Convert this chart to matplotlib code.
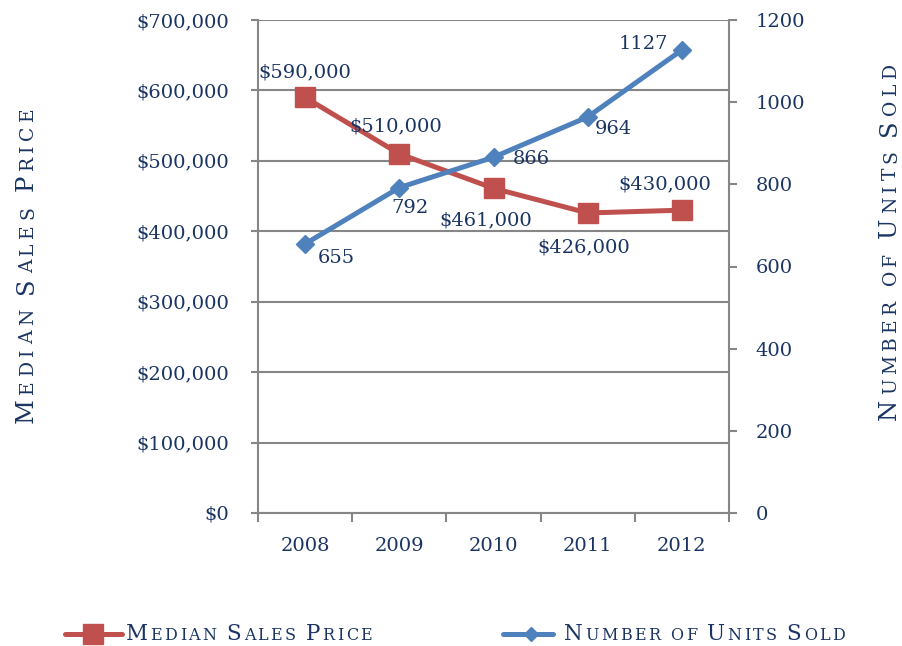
import matplotlib
matplotlib.use("Agg")
import matplotlib.pyplot as plt
from matplotlib.font_manager import FontProperties
from matplotlib.lines import Line2D
from matplotlib.ticker import FuncFormatter, FixedLocator
import numpy as np

# ---------------- data ----------------
years = ["2008", "2009", "2010", "2011", "2012"]
median_price = [590000, 510000, 461000, 426000, 430000]
units_sold = [655, 792, 866, 964, 1127]
price_labels = ["$590,000", "$510,000", "$461,000", "$426,000", "$430,000"]
units_labels = ["655", "792", "866", "964", "1127"]
left_ticks = [0, 100000, 200000, 300000, 400000, 500000, 600000, 700000]
right_ticks = [0, 200, 400, 600, 800, 1000, 1200]

# label offsets (pixels) for data labels
price_offsets = [(0, 25), (-4, 27), (-8, -32), (-4, -34), (-17, 26)]
units_offsets = [(31, -14), (11, -20), (38, -2), (26, -12), (-39, 6)]

# ---------------- style ----------------
W, H = 902, 646
FAMILY = "DejaVu Serif"
NAVY = "#1B3563"
RED = "#C0504D"
BLUE = "#4F81BD"
GRAY = "#868686"

plt.rcParams["font.family"] = FAMILY

fig = plt.figure(figsize=(W / 100, H / 100), dpi=100)
fig.patch.set_facecolor("white")
ax = fig.add_axes([258 / W, 1 - 513 / H, (729 - 258) / W, (513 - 20) / H])
ax2 = ax.twinx()

x = np.arange(len(years))

ax.plot(x, median_price, color=RED, lw=3.6, marker="s", ms=14,
        markerfacecolor=RED, markeredgecolor=RED, solid_capstyle="round",
        zorder=3)
ax2.plot(x, units_sold, color=BLUE, lw=3.6, marker="D", ms=9.5,
         markerfacecolor=BLUE, markeredgecolor=BLUE, solid_capstyle="round",
         zorder=3)

ax.set_xlim(-0.5, len(years) - 0.5)
ax.set_ylim(0, 700000)
ax2.set_ylim(0, 1200)

# x ticks: major at boundaries, labels at centres
ax.xaxis.set_major_locator(FixedLocator(np.arange(-0.5, len(years), 1.0)))
ax.xaxis.set_major_formatter(FuncFormatter(lambda v, p: ""))
ax.xaxis.set_minor_locator(FixedLocator(x))
ax.xaxis.set_minor_formatter(FuncFormatter(lambda v, p: years[int(round(v))]))
ax.tick_params(axis="x", which="major", length=6.5, width=1.5, color=GRAY,
               direction="out")
ax.tick_params(axis="x", which="minor", length=0, pad=17, labelsize=14,
               labelcolor=NAVY)

ax.set_yticks(left_ticks)
ax.yaxis.set_major_formatter(FuncFormatter(lambda v, p: "${:,.0f}".format(v)))
ax.tick_params(axis="y", length=5, width=1.5, color=GRAY, pad=16,
               labelsize=14, labelcolor=NAVY)

ax2.set_yticks(right_ticks)
ax2.tick_params(axis="y", length=6, width=1.5, color=GRAY, pad=13,
                labelsize=14, labelcolor=NAVY)

ax.yaxis.grid(True, color=GRAY, lw=1.5)
ax.set_axisbelow(True)

for a in (ax, ax2):
    a.spines["top"].set_visible(False)
    for s in ("left", "right", "bottom"):
        a.spines[s].set_color(GRAY)
        a.spines[s].set_linewidth(1.5)
ax.spines["right"].set_visible(False)
ax2.spines["left"].set_visible(False)
ax2.spines["bottom"].set_visible(False)

# data labels
for i, (v, lab) in enumerate(zip(median_price, price_labels)):
    ax2.annotate(lab, xy=(x[i], v), xycoords=ax.transData,
                 xytext=price_offsets[i], textcoords="offset pixels",
                 ha="center", va="center", fontsize=14, color=NAVY, zorder=5)
for i, (v, lab) in enumerate(zip(units_sold, units_labels)):
    ax2.annotate(lab, xy=(x[i], v), xycoords=ax2.transData,
                 xytext=units_offsets[i], textcoords="offset pixels",
                 ha="center", va="center", fontsize=14, color=NAVY, zorder=5)

# ---------------- small-caps helper ----------------
renderer = fig.canvas.get_renderer()
_cache = {}


def advance(ch, size):
    key = (ch, size)
    if key not in _cache:
        prop = FontProperties(family=FAMILY, size=size)
        w1, _, _ = renderer.get_text_width_height_descent("H" + ch + "H", prop, ismath=False)
        w0, _, _ = renderer.get_text_width_height_descent("HH", prop, ismath=False)
        _cache[key] = w1 - w0
    return _cache[key]


def small_caps(x0, y0_top, text, big, small, rotation, length):
    """x0, y0_top in pixels (origin top-left); baseline start point."""
    glyphs = []
    for ch in text:
        if ch == " ":
            glyphs.append((" ", small))
        elif ch.isupper():
            glyphs.append((ch, big))
        else:
            glyphs.append((ch.upper(), small))
    natural = sum(advance(c, s) for c, s in glyphs)
    track = (length - natural) / max(len(glyphs) - 1, 1)
    pos = 0.0
    y0 = H - y0_top
    for c, s in glyphs:
        if c != " ":
            if rotation == 0:
                px, py = x0 + pos, y0
            else:
                px, py = x0, y0 + pos
            fig.text(px / W, py / H, c, fontsize=s, color=NAVY,
                     rotation=rotation, rotation_mode="anchor",
                     ha="left", va="baseline", family=FAMILY)
        pos += advance(c, s) + track


# axis titles
small_caps(33, 423, "Median Sales Price", 17.5, 13.5, 90, 316)
small_caps(896, 420, "Number of Units Sold", 17.5, 13.5, 90, 357)

# legend (manual)
fig.add_artist(Line2D([65 / W, 122 / W], [1 - 634 / H] * 2, color=RED, lw=3.6,
                      solid_capstyle="round", transform=fig.transFigure))
fig.add_artist(Line2D([93 / W], [1 - 634 / H], color=RED, marker="s", ms=14,
                      transform=fig.transFigure))
fig.add_artist(Line2D([503 / W, 553 / W], [1 - 634 / H] * 2, color=BLUE, lw=3.6,
                      solid_capstyle="round", transform=fig.transFigure))
fig.add_artist(Line2D([531 / W], [1 - 634 / H], color=BLUE, marker="D", ms=7.5,
                      transform=fig.transFigure))
small_caps(126, 640, "Median Sales Price", 15.5, 11.5, 0, 246)
small_caps(564, 640, "Number of Units Sold", 15.5, 11.5, 0, 281)

fig.savefig("out.png", dpi=100, facecolor="white")
